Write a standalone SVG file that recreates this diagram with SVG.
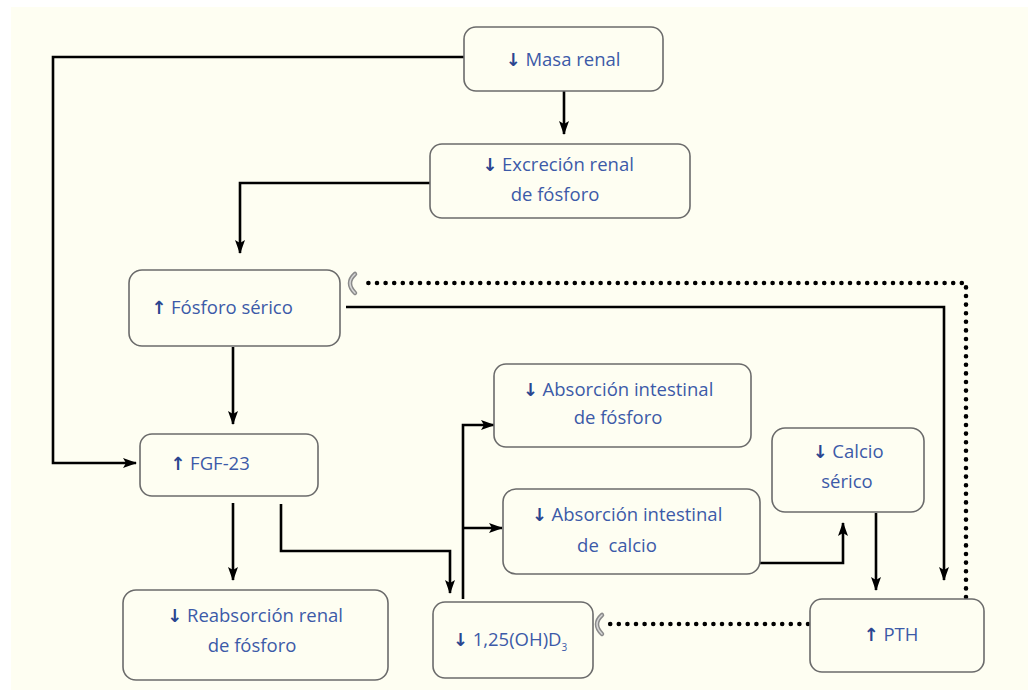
<svg xmlns="http://www.w3.org/2000/svg" width="1033" height="693" viewBox="0 0 1033 693">
<defs>
<style>
.bg{fill:#fefef2}
.box{fill:#fefef2;stroke:#6b6b6b;stroke-width:1.6}
.t{font-family:"Open Sans","Noto Sans",sans-serif;font-size:18.5px;fill:#3c5aa8;text-anchor:middle}
.ar{fill:#2a4590;font-family:"DejaVu Sans",sans-serif;font-size:18px;font-weight:bold}
.ln{fill:none;stroke:#000;stroke-width:2.6}
.dot{fill:none;stroke:#000;stroke-width:4.6;stroke-linecap:round;stroke-dasharray:0 8.6}
.inh{fill:none;stroke:#8a8a8a;stroke-width:4.5;stroke-linecap:round}
.inh2{fill:none;stroke:#d8d8d8;stroke-width:1.5;stroke-linecap:round}
</style>
<marker id="ah" viewBox="0 0 14 10" refX="13" refY="5" markerWidth="14" markerHeight="10" markerUnits="userSpaceOnUse" orient="auto">
<path d="M0,0 L14,5 L0,10 L3,5 Z" fill="#000"/>
</marker>
</defs>
<rect x="0" y="0" width="1033" height="693" fill="#fff"/>
<rect class="bg" x="11" y="7" width="1017" height="683"/>

<g id="connectors">
<path class="ln" d="M464,57 H53 V463 H136" marker-end="url(#ah)"/>
<path class="ln" d="M564,91 V134" marker-end="url(#ah)"/>
<path class="ln" d="M430,183 H240 V253" marker-end="url(#ah)"/>
<path class="ln" d="M233,347 V424" marker-end="url(#ah)"/>
<path class="ln" d="M233,503 V580" marker-end="url(#ah)"/>
<path class="ln" d="M281,504 V551 H450 V593" marker-end="url(#ah)"/>
<path class="ln" d="M463,599 V425 H494" marker-end="url(#ah)"/>
<path class="ln" d="M463,528 H502" marker-end="url(#ah)"/>
<path class="ln" d="M760,563 H843 V523" marker-end="url(#ah)"/>
<path class="ln" d="M876,513 V590" marker-end="url(#ah)"/>
<path class="ln" d="M346,307 H944 V580" marker-end="url(#ah)"/>
<path class="dot" d="M966,597 V283 H361"/>
<path class="inh" d="M355,274 Q345,283 355,293"/>
<path class="inh2" d="M355,274 Q345,283 355,293"/>
<path class="dot" d="M808,624 H608"/>
<path class="inh" d="M602,615 Q592,624 602,634"/>
<path class="inh2" d="M602,615 Q592,624 602,634"/>
</g>

<g id="masa-renal">
<rect class="box" x="464" y="27" width="199" height="64" rx="12"/>
<text class="t" x="563" y="66"><tspan class="ar">↓</tspan> Masa renal</text>
</g>
<g id="excrecion">
<rect class="box" x="430" y="144" width="260" height="74" rx="12"/>
<text class="t" x="558" y="171"><tspan class="ar">↓</tspan> Excreción renal</text>
<text class="t" x="555" y="201">de fósforo</text>
</g>
<g id="fosforo-serico">
<rect class="box" x="129" y="270" width="211" height="76" rx="13"/>
<text class="t" x="222" y="314"><tspan class="ar">↑</tspan> Fósforo sérico</text>
</g>
<g id="fgf23">
<rect class="box" x="140" y="434" width="178" height="62" rx="12"/>
<text class="t" x="210" y="470"><tspan class="ar">↑</tspan> FGF-23</text>
</g>
<g id="reabsorcion">
<rect class="box" x="123" y="590" width="265" height="90" rx="13"/>
<text class="t" x="255" y="622"><tspan class="ar">↓</tspan> Reabsorción renal</text>
<text class="t" x="252" y="652">de fósforo</text>
</g>
<g id="vitd">
<rect class="box" x="433" y="602" width="160" height="76" rx="12"/>
<text class="t" x="510" y="646"><tspan class="ar">↓</tspan> 1,25(OH)D<tspan font-size="10" dy="5">3</tspan></text>
</g>
<g id="abs-fosforo">
<rect class="box" x="494" y="364" width="257" height="83" rx="12"/>
<text class="t" x="618" y="396"><tspan class="ar">↓</tspan> Absorción intestinal</text>
<text class="t" x="618" y="424">de fósforo</text>
</g>
<g id="abs-calcio">
<rect class="box" x="503" y="489" width="257" height="85" rx="13"/>
<text class="t" x="627" y="521"><tspan class="ar">↓</tspan> Absorción intestinal</text>
<text class="t" x="617" y="552">de&#160; calcio</text>
</g>
<g id="calcio-serico">
<rect class="box" x="772" y="428" width="152" height="84" rx="13"/>
<text class="t" x="848" y="458"><tspan class="ar">↓</tspan> Calcio</text>
<text class="t" x="847" y="488">sérico</text>
</g>
<g id="pth">
<rect class="box" x="810" y="599" width="174" height="73" rx="12"/>
<text class="t" x="891" y="641"><tspan class="ar">↑</tspan> PTH</text>
</g>
</svg>
